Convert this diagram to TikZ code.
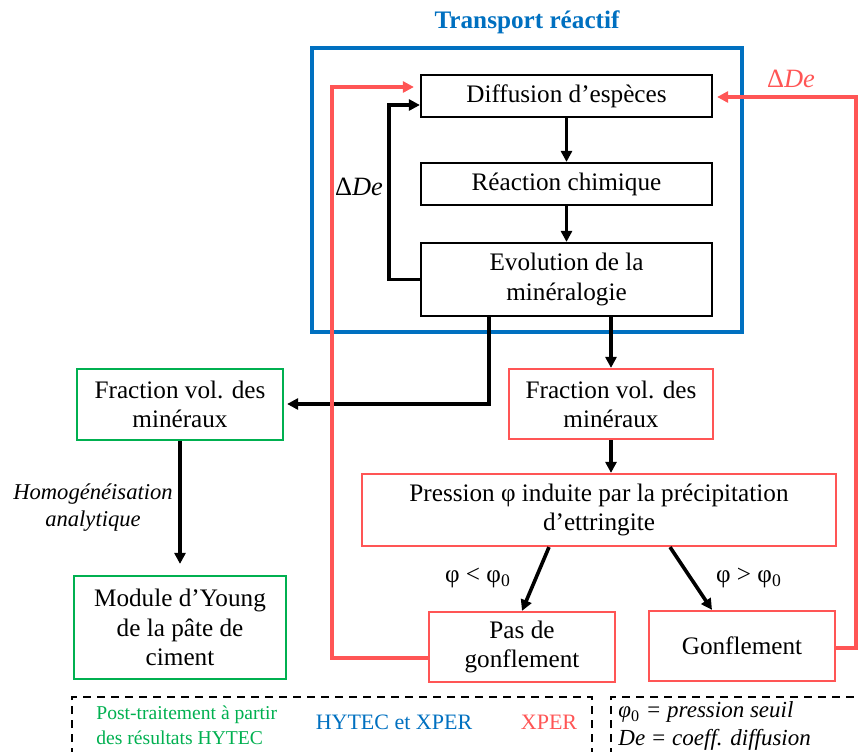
\documentclass[tikz,border=0pt]{standalone}
\usepackage{fontspec}
\setmainfont{Liberation Serif}
\usetikzlibrary{arrows.meta,calc}
\definecolor{bleu}{RGB}{0,112,192}
\definecolor{rouge}{RGB}{255,85,85}
\definecolor{vert}{RGB}{0,176,80}
\newcommand\dDe{Δ\textit{De}}
\begin{document}
\begin{tikzpicture}[x=0.5pt,y=-0.5pt,
  bx/.style={draw, line width=1.1pt, inner sep=0pt, align=center, font=\fontsize{12.6}{14.6}\selectfont},
  blk/.style={bx, draw=black},
  rbx/.style={bx, draw=rouge, line width=1.1pt},
  gbx/.style={bx, draw=vert, line width=1.1pt},
  arr/.style={line width=1.8pt, -{Triangle[length=5.5pt,width=5.5pt]}},
  rarr/.style={arr, draw=rouge},
  dsh/.style={line width=1.1pt, dash pattern=on 4pt off 3pt},
  lbl/.style={font=\fontsize{12.6}{14.6}\selectfont, inner sep=0pt}
]
\useasboundingbox (0,0) rectangle (858,751);
\clip (0,0) rectangle (858,751);

% title and blue frame
\node[lbl, font=\fontsize{12.6}{15}\selectfont\bfseries, text=bleu] (title) at (527,22) {Transport réactif};
\node[draw=bleu, line width=1.8pt, minimum width=215pt, minimum height=142pt, inner sep=0pt] (tr) at (527,190) {};

% boxes
\node[blk, minimum width=145.5pt, minimum height=21pt] (diff) at (566.5,96) {Diffusion d’espèces};
\node[blk, minimum width=145.5pt, minimum height=21pt] (reac) at (566.5,184) {Réaction chimique};
\node[blk, minimum width=145.5pt, minimum height=36.5pt] (evol) at (566.5,279.5) {Evolution de la\\minéralogie};
\node[rbx, minimum width=102pt, minimum height=35pt] (fracR) at (611,404) {Fraction vol. des\\minéraux};
\node[gbx, minimum width=103pt, minimum height=35.5pt] (fracG) at (180,404.5) {Fraction vol. des\\minéraux};
\node[rbx, minimum width=237pt, minimum height=36pt] (pres) at (599,510) {Pression φ induite par la précipitation\\d’ettringite};
\node[rbx, minimum width=93pt, minimum height=35pt] (pas) at (522,647) {Pas de\\gonflement};
\node[rbx, minimum width=93pt, minimum height=35pt] (gonf) at (742,646) {Gonflement};
\node[gbx, minimum width=106pt, minimum height=51.5pt] (mod) at (180,627.5) {Module d’Young\\de la pâte de\\ciment};

% labels
\node[lbl, font=\fontsize{13.2}{15}\selectfont] (dde) at (359,187) {\dDe};
\node[lbl, font=\fontsize{13.2}{15}\selectfont, text=rouge] (ddeR) at (791,79) {\dDe};
\node[lbl] (inf) at (478,578) {φ < φ\textsubscript{0}};
\node[lbl] (sup) at (749,578) {φ > φ\textsubscript{0}};
\node[lbl, align=center, font=\fontsize{11.3}{13.5}\selectfont\itshape] (hom) at (93,508) {Homogénéisation\\analytique};

% black connectors
\draw[arr] (diff) -- (reac);
\draw[arr] (reac) -- (evol);
\coordinate (bl) at (389,105);
\draw[arr] (evol.west) -| (bl) -- (bl -| diff.west);
\coordinate (g1) at (489,404);
\draw[arr, shorten >=1.5pt] (evol.south -| g1) -- (g1) -- (g1 -| fracG.east);
\draw[arr] (evol.south -| fracR.north) -- (fracR.north);
\draw[arr] (fracR.south) -- (fracR.south |- pres.north);
\draw[arr] ([xshift=-25pt]pres.south) -- (pas.north);
\draw[arr] ([xshift=35.5pt]pres.south) -- ([xshift=-15pt]gonf.north);
\draw[arr, shorten >=5.5pt] (fracG) -- (mod);

% red connectors
\coordinate (rl) at (332,658);
\coordinate (rtop) at (332,87);
\draw[rarr, shorten >=3pt] (rl -| pas.west) -- (rl) -- (rtop) -- (rtop -| diff.west);
\coordinate (rr) at (856,648);
\coordinate (rtop2) at (856,97);
\draw[rarr, shorten >=2pt] (rr -| gonf.east) -- (rr) -- (rtop2) -- (rtop2 -| diff.east);

% legend
\draw[dsh] (72,770) -- (72,697) -- (592,697) -- (592,770);
\draw[dsh] (611,770) -- (611,697) -- (880,697);
\node[anchor=west, text=vert, align=left, inner sep=0pt, font=\fontsize{9.8}{12.5}\selectfont] (lg) at (96,725) {Post-traitement à partir\\des résultats HYTEC};
\node[text=bleu, inner sep=0pt, font=\fontsize{11}{13}\selectfont] (lb) at (394,722) {HYTEC et XPER};
\node[text=rouge, inner sep=0pt, font=\fontsize{11}{13}\selectfont] (lrx) at (549,722) {XPER};
\node[anchor=west, align=left, inner sep=0pt, font=\fontsize{11.5}{14}\selectfont\itshape] (lr) at (618,726) {φ\textsubscript{\upshape 0} = pression seuil\\De = coeff. diffusion};
\end{tikzpicture}
\end{document}
